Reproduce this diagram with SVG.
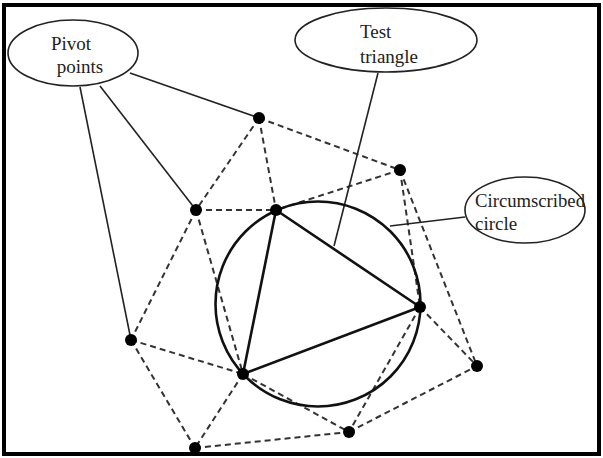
<svg xmlns="http://www.w3.org/2000/svg" width="603" height="458" viewBox="0 0 603 458">
<style>
.dash{stroke:#333;stroke-width:2;stroke-dasharray:6 4;fill:none}
.lead{stroke:#222;stroke-width:1.6;fill:none}
.tri{stroke:#111;stroke-width:2.6;fill:none;stroke-linejoin:round}
.lbl{fill:#fff;stroke:#222;stroke-width:1.6}
.txt{font-family:"Liberation Serif","Times New Roman",serif;font-size:19px;fill:#222}
.pt{fill:#000}
</style>
<rect x="0" y="0" width="603" height="458" fill="#fff"/>
<rect x="4" y="5" width="595" height="449" fill="none" stroke="#000" stroke-width="4"/>
<g id="connectors">
<line class="dash" x1="259" y1="118" x2="196" y2="210"/>
<line class="dash" x1="259" y1="118" x2="276" y2="210"/>
<line class="dash" x1="259" y1="118" x2="400" y2="170"/>
<line class="dash" x1="400" y1="170" x2="276" y2="210"/>
<line class="dash" x1="400" y1="170" x2="420" y2="307"/>
<line class="dash" x1="400" y1="170" x2="477" y2="366"/>
<line class="dash" x1="196" y1="210" x2="276" y2="210"/>
<line class="dash" x1="196" y1="210" x2="131" y2="340"/>
<line class="dash" x1="196" y1="210" x2="243" y2="374"/>
<line class="dash" x1="131" y1="340" x2="243" y2="374"/>
<line class="dash" x1="131" y1="340" x2="195" y2="448"/>
<line class="dash" x1="243" y1="374" x2="195" y2="448"/>
<line class="dash" x1="195" y1="448" x2="349" y2="432"/>
<line class="dash" x1="243" y1="374" x2="349" y2="432"/>
<line class="dash" x1="420" y1="307" x2="349" y2="432"/>
<line class="dash" x1="349" y1="432" x2="477" y2="366"/>
<line class="dash" x1="420" y1="307" x2="477" y2="366"/>
<line class="lead" x1="130" y1="73" x2="259" y2="118"/>
<line class="lead" x1="100" y1="86" x2="196" y2="210"/>
<line class="lead" x1="80" y1="87" x2="131" y2="340"/>
<line class="lead" x1="378" y1="73" x2="334" y2="246"/>
<line class="lead" x1="465" y1="217" x2="390" y2="226"/>
</g>
<g id="circle">
<circle cx="318" cy="304" r="102.5" fill="none" stroke="#111" stroke-width="2.6"/>
</g>
<g id="triangle">
<polygon class="tri" points="276,210 420,307 243,374"/>
</g>
<g id="points">
<circle class="pt" cx="259" cy="118" r="6"/>
<circle class="pt" cx="400" cy="170" r="6"/>
<circle class="pt" cx="196" cy="210" r="6"/>
<circle class="pt" cx="276" cy="210" r="6"/>
<circle class="pt" cx="420" cy="307" r="6"/>
<circle class="pt" cx="243" cy="374" r="6"/>
<circle class="pt" cx="131" cy="340" r="6"/>
<circle class="pt" cx="195" cy="448" r="6"/>
<circle class="pt" cx="349" cy="432" r="6"/>
<circle class="pt" cx="477" cy="366" r="6"/>
</g>
<g id="pivot-points">
<ellipse class="lbl" cx="73" cy="53" rx="65" ry="33"/>
<text class="txt" x="71" y="50" text-anchor="middle">Pivot</text>
<text class="txt" x="80" y="73" text-anchor="middle">points</text>
</g>
<g id="test-triangle">
<ellipse class="lbl" cx="386" cy="40" rx="91" ry="32"/>
<text class="txt" x="360" y="38">Test</text>
<text class="txt" x="360" y="63">triangle</text>
</g>
<g id="circumscribed-circle">
<ellipse class="lbl" cx="525" cy="210" rx="60" ry="33"/>
<text class="txt" x="475" y="207" textLength="110" lengthAdjust="spacingAndGlyphs">Circumscribed</text>
<text class="txt" x="475" y="230">circle</text>
</g>
</svg>
